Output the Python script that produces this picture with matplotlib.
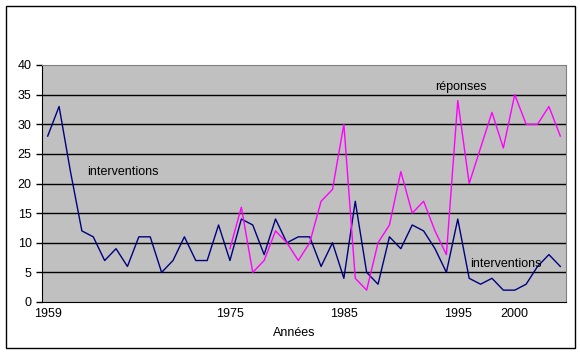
import numpy as np
import matplotlib
matplotlib.use("Agg")
import matplotlib.pyplot as plt
from matplotlib.patches import Rectangle

plt.rcParams['font.family'] = ['Liberation Sans', 'DejaVu Sans']

years = list(range(1959, 2005))
interventions = [28, 33, 22, 12, 11, 7, 9, 6, 11, 11, 5, 7, 11, 7, 7, 13,
                 7, 14, 13, 8, 14, 10, 11, 11, 6, 10, 4, 17, 5, 3, 11, 9,
                 13, 12, 9, 5, 14, 4, 3, 4, 2, 2, 3, 6, 8, 6]
reponses = [np.nan] * 16 + [9, 16, 5, 7, 12, 10, 7, 10, 17, 19, 30, 4, 2, 10,
                            13, 22, 15, 17, 12, 8, 34, 20, 26, 32, 26, 35, 30,
                            30, 33, 28]
tick_years = [1959, 1975, 1985, 1995, 2000]
y_ticks = [0, 5, 10, 15, 20, 25, 30, 35, 40]

fig = plt.figure(figsize=(5.8, 3.52), dpi=100)
fig.patch.set_facecolor('white')
# outer chart frame
fig.patches.append(Rectangle((5.5 / 580, 4.5 / 352), 569 / 580, 342 / 352,
                             transform=fig.transFigure, fill=False,
                             edgecolor='black', linewidth=1))

ax = fig.add_axes([42 / 580, 50 / 352, 524 / 580, 237 / 352])
ax.set_facecolor('#C0C0C0')

x = np.arange(len(years))
ax.plot(x, interventions, color='#000080', linewidth=1)
ax.plot(x, reponses, color='#FF00FF', linewidth=1)

ax.set_xlim(-0.5, len(years) - 0.5)
ax.set_ylim(0, 40)
ax.set_yticks(y_ticks)
ax.set_yticklabels([str(v) for v in y_ticks], fontsize=9)
for v in y_ticks[1:-1]:
    ax.axhline(v, color='black', linewidth=1, zorder=0.5)

ax.set_xticks([years.index(y) for y in tick_years])
ax.set_xticklabels([str(y) for y in tick_years], fontsize=9)
ax.tick_params(axis='x', length=0, pad=4)
ax.tick_params(axis='y', length=4, width=1, pad=3.5, direction='out')

for side in ['top', 'right']:
    ax.spines[side].set_color('#808080')
for side in ['left', 'bottom']:
    ax.spines[side].set_color('black')

ax.text(3.5, 22, 'interventions', fontsize=9, ha='left', va='center')
ax.text(37.1, 6.4, 'interventions', fontsize=9, ha='left', va='center')
ax.text(34.0, 36.3, 'réponses', fontsize=9, ha='left', va='center')

fig.text(294 / 580, 1 - 333 / 352, 'Années', fontsize=9, ha='center', va='center')

fig.savefig('out.png', dpi=100)
